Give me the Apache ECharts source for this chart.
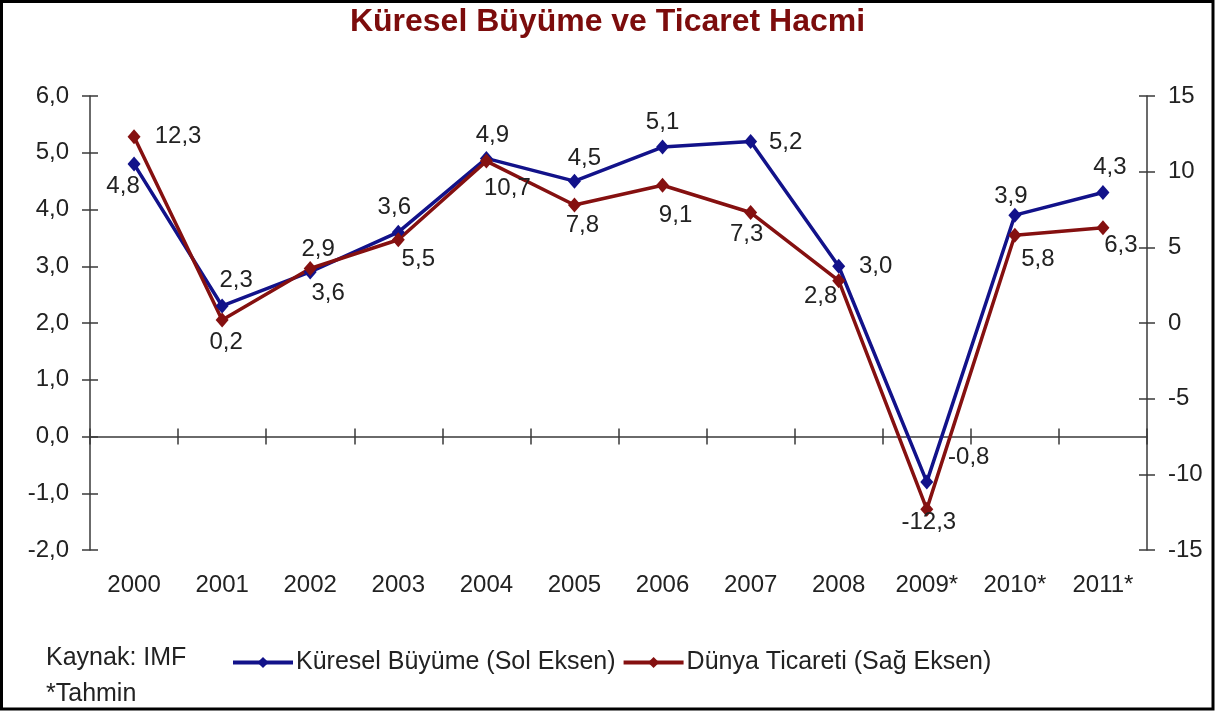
<!DOCTYPE html>
<html>
<head>
<meta charset="utf-8">
<script src="https://cdn.jsdelivr.net/npm/echarts@6/dist/echarts.min.js"></script>
<style>
  html, body { margin: 0; padding: 0; background: #fff; }
  #chart { width: 1215px; height: 711px; }
</style>
</head>
<body>
<div id="chart"></div>
<script>
// yillar (* = tahmin)
const years = ['2000', '2001', '2002', '2003', '2004', '2005', '2006', '2007', '2008', '2009*', '2010*', '2011*'];
// Küresel büyüme, sol eksen
const growth = [4.8, 2.3, 2.9, 3.6, 4.9, 4.5, 5.1, 5.2, 3.0, -0.8, 3.9, 4.3];
// Dünya ticareti, sağ eksen
const trade = [12.3, 0.2, 3.6, 5.5, 10.7, 7.8, 9.1, 7.3, 2.8, -12.3, 5.8, 6.3];

const leftAxis = { min: -2, max: 6, interval: 1 };
const rightAxis = { min: -15, max: 15, interval: 5 };

// etiket kaydirmalari (nokta merkezine gore)
const growthLabelShift = [[-11, 22], [14, -26], [8, -23], [-4, -25], [6, -23], [10, -23], [0, -25], [35, 1], [37, 0], [42, -25], [-4, -19], [7, -25]];
const tradeLabelShift = [[44, 0], [4, 22], [18, 25], [20, 20], [21, 27], [8, 20], [13, 30], [-4, 22], [-18, 16], [2, 13], [23, 24], [18, 18]];

const FONT = "'Liberation Sans', Arial, sans-serif";
const BLUE = '#12128a';
const RED = '#851010';
const AXIS = '#3a3a3a';

const fmt1 = (v) => Number(v).toFixed(1).replace('.', ',');

const chart = echarts.init(document.getElementById('chart'));

const labelBase = {
  show: true,
  position: 'inside',
  color: '#222',
  fontSize: 24,
  fontFamily: FONT,
  textBorderWidth: 0,
  formatter: (p) => fmt1(p.value)
};

const valueAxis = (pos, range, labelFmt, inside, showLabel) => ({
  type: 'value',
  position: pos,
  min: range.min,
  max: range.max,
  interval: range.interval,
  splitLine: { show: false },
  axisLine: { show: !inside, lineStyle: { color: AXIS, width: 1.5 } },
  axisTick: { show: true, inside: inside, length: 8, lineStyle: { color: AXIS, width: 1.5 } },
  axisLabel: {
    show: showLabel,
    margin: 21,
    color: '#222',
    fontSize: 24,
    fontFamily: FONT,
    formatter: labelFmt
  }
});

const option = {
  backgroundColor: '#fff',
  animation: false,
  title: {
    text: 'Küresel Büyüme ve Ticaret Hacmi',
    left: 'center',
    top: 1,
    textStyle: { color: '#7c0c0c', fontSize: 32, fontWeight: 'bold', fontFamily: FONT }
  },
  grid: { left: 90, right: 68, top: 96, bottom: 161 },
  legend: {
    left: 226,
    top: 645,
    itemWidth: 60,
    itemHeight: 14,
    itemGap: 6,
    lineStyle: { width: 4 },
    textStyle: { color: '#222', fontSize: 25, fontFamily: FONT, padding: [0, 0, 0, -2] },
    data: ['Küresel Büyüme (Sol Eksen)', 'Dünya Ticareti (Sağ Eksen)']
  },
  xAxis: [
    {
      // yil etiketleri, altta
      type: 'category',
      data: years,
      axisLine: { show: false, onZero: false },
      axisTick: { show: false },
      axisLabel: { margin: 23, color: '#222', fontSize: 24, fontFamily: FONT }
    },
    {
      // sifir cizgisi, asagi tikler
      type: 'category',
      data: years,
      axisLine: { show: true, onZero: true, onZeroAxisIndex: 0, lineStyle: { color: AXIS, width: 1.5 } },
      axisTick: { show: true, length: 8, lineStyle: { color: AXIS, width: 1.5 } },
      axisLabel: { show: false }
    },
    {
      // yukari tikler
      type: 'category',
      data: years,
      axisLine: { show: false, onZero: true, onZeroAxisIndex: 0 },
      axisTick: { show: true, inside: true, length: 8, lineStyle: { color: AXIS, width: 1.5 } },
      axisLabel: { show: false }
    }
  ],
  yAxis: [
    valueAxis('left', leftAxis, (v) => fmt1(v), false, true),
    valueAxis('right', rightAxis, (v) => String(v), false, true),
    valueAxis('left', leftAxis, null, true, false),
    valueAxis('right', rightAxis, null, true, false)
  ],
  series: [
    {
      name: 'Küresel Büyüme (Sol Eksen)',
      type: 'line',
      xAxisIndex: 0,
      yAxisIndex: 0,
      symbol: 'diamond',
      symbolSize: [13, 15],
      lineStyle: { color: BLUE, width: 3.5 },
      itemStyle: { color: BLUE },
      label: labelBase,
      data: growth.map((v, i) => ({ value: v, label: { offset: growthLabelShift[i] } }))
    },
    {
      name: 'Dünya Ticareti (Sağ Eksen)',
      type: 'line',
      xAxisIndex: 0,
      yAxisIndex: 1,
      symbol: 'diamond',
      symbolSize: [13, 15],
      lineStyle: { color: RED, width: 3.5 },
      itemStyle: { color: RED },
      label: labelBase,
      data: trade.map((v, i) => ({ value: v, label: { offset: tradeLabelShift[i] } }))
    }
  ],
  graphic: [
    {
      type: 'text',
      left: 46,
      top: 646,
      style: { text: 'Kaynak: IMF', fill: '#222', fontSize: 25, fontFamily: FONT }
    },
    {
      type: 'text',
      left: 46,
      top: 682,
      style: { text: '*Tahmin', fill: '#222', fontSize: 25, fontFamily: FONT }
    },
    {
      type: 'rect',
      shape: { x: 1.5, y: 1.5, width: 1211.5, height: 707.5 },
      style: { fill: 'none', stroke: '#000', lineWidth: 3 },
      silent: true
    }
  ]
};

chart.setOption(option);
</script>
</body>
</html>
